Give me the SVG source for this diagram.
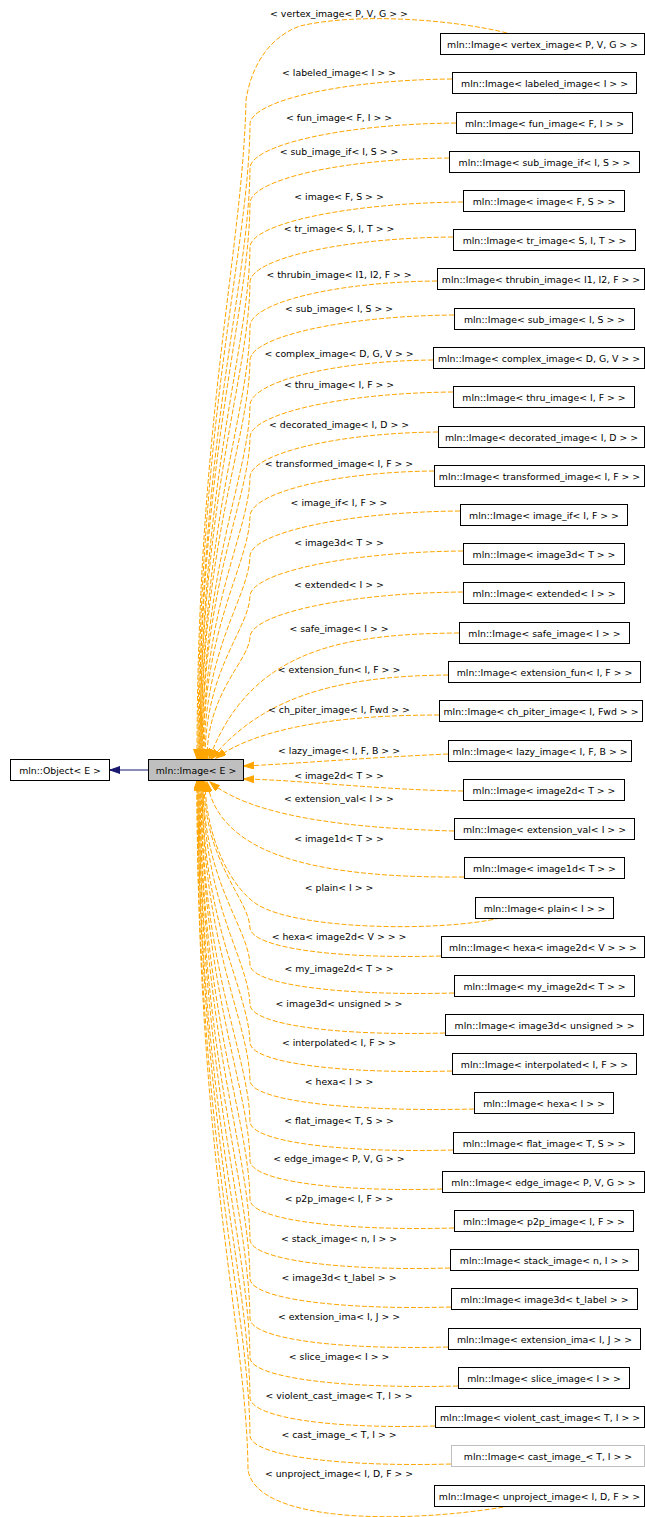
<svg xmlns="http://www.w3.org/2000/svg" width="645" height="1517" viewBox="0 0 645 1517">
<style>
text{font-family:"DejaVu Sans","Liberation Sans",sans-serif;font-size:9.33px;fill:#000;text-anchor:middle}
.n rect{fill:#fff;stroke:#000;stroke-width:1}
.g rect{fill:#fff;stroke:#bfbfbf;stroke-width:1}
.c path{fill:none;stroke:#ffa500;stroke-width:1;stroke-dasharray:5,2;marker-end:url(#ao)}
</style>
<defs>
<marker id="ao" markerWidth="11" markerHeight="8" refX="10" refY="3.5" orient="auto" markerUnits="userSpaceOnUse"><path d="M0,0 L10,3.5 L0,7 z" fill="#ffa500" stroke="#ffa500" stroke-width="1" stroke-dasharray="none"/></marker>
<marker id="an" markerWidth="11" markerHeight="8" refX="10" refY="3.5" orient="auto" markerUnits="userSpaceOnUse"><path d="M0,0 L10,3.5 L0,7 z" fill="#191970" stroke="#191970" stroke-width="1"/></marker>
</defs>
<rect width="645" height="1517" fill="#fff"/>
<g id="connectors">
<path d="M148,770 L110,770" fill="none" stroke="#191970" stroke-width="1" marker-end="url(#an)"/>
<g class="c">
<path d="M507,33 C455,20 360,12 300,26 C272,36 252,62 246,100 C243,250 197,420 197,759"/>
<path d="M452,79 C341,80 251,101 250,124 C249,251 198,410 198,759"/>
<path d="M456,123 C343,124 251,145 250,168 C249,286 199,434 199,759"/>
<path d="M449,158 C340,159 251,180 250,203 C249,314 199,453 199,759"/>
<path d="M463,202 C346,203 251,224 250,247 C249,349 200,477 200,759"/>
<path d="M453,237 C341,238 251,259 250,282 C249,377 200,497 200,759"/>
<path d="M437,281 C334,282 251,303 250,326 C249,413 201,521 201,759"/>
<path d="M454,315 C342,316 251,337 250,360 C249,440 201,540 201,759"/>
<path d="M433,360 C332,361 251,382 250,405 C249,476 202,564 202,759"/>
<path d="M453,392 C341,393 251,414 250,437 C249,501 202,582 202,759"/>
<path d="M438,432 C335,433 251,454 250,477 C249,533 203,604 203,759"/>
<path d="M434,471 C333,472 251,493 250,516 C249,565 203,625 203,759"/>
<path d="M460,511 C345,512 251,533 250,556 C249,597 204,647 204,759"/>
<path d="M463,551 C346,552 251,573 250,596 C249,629 205,669 205,759"/>
<path d="M463,592 C346,593 251,614 250,637 C249,661 207,692 207,759"/>
<path d="M459,633 C340,634 250,650 209,759"/>
<path d="M448,675 C330,676 260,700 211,759"/>
<path d="M439,715 C330,715 255,730 216,758"/>
<path d="M448,754 C360,758 290,764 244,766"/>
<path d="M463,791 C380,790 300,780 244,779"/>
<path d="M454,831 C340,828 250,815 210,782"/>
<path d="M464,877 C330,878 220,860 207,782"/>
<path d="M500,918 C440,932 300,930 258,905 C232,889 206,840 205,782"/>
<path d="M441,956 C336,959 252,948 250,928 C249,899 204,862 204,781"/>
<path d="M454,993 C342,996 252,985 250,965 C249,928 203,882 203,781"/>
<path d="M445,1033 C338,1036 252,1025 250,1005 C249,960 203,904 203,781"/>
<path d="M452,1071 C341,1074 252,1063 250,1043 C249,991 202,925 202,781"/>
<path d="M474,1109 C351,1112 252,1101 250,1081 C249,1021 202,946 202,781"/>
<path d="M453,1150 C341,1153 252,1142 250,1122 C249,1054 201,969 201,781"/>
<path d="M442,1189 C336,1192 252,1181 250,1161 C249,1085 201,990 201,781"/>
<path d="M454,1228 C342,1231 252,1220 250,1200 C249,1116 200,1011 200,781"/>
<path d="M450,1268 C340,1271 252,1260 250,1240 C249,1148 200,1033 200,781"/>
<path d="M451,1307 C340,1310 252,1299 250,1279 C249,1179 199,1055 199,781"/>
<path d="M448,1347 C339,1350 252,1339 250,1319 C249,1211 199,1077 199,781"/>
<path d="M458,1386 C344,1389 252,1378 250,1358 C249,1243 198,1098 198,781"/>
<path d="M435,1426 C333,1429 252,1418 250,1398 C249,1275 198,1120 198,781"/>
<path d="M451,1464 C340,1467 252,1456 250,1436 C249,1305 197,1141 197,781"/>
<path d="M510,1506 C400,1525 256,1522 248,1470 C247,1332 197,1160 197,781"/>
</g>
<g id="edge-labels">
<text x="339" y="17.4">&lt; vertex_image&lt; P, V, G &gt; &gt;</text>
<text x="339" y="76.4">&lt; labeled_image&lt; I &gt; &gt;</text>
<text x="339" y="121.4">&lt; fun_image&lt; F, I &gt; &gt;</text>
<text x="339" y="155.4">&lt; sub_image_if&lt; I, S &gt; &gt;</text>
<text x="339" y="199.9">&lt; image&lt; F, S &gt; &gt;</text>
<text x="339" y="232.4">&lt; tr_image&lt; S, I, T &gt; &gt;</text>
<text x="339" y="278.4">&lt; thrubin_image&lt; I1, I2, F &gt; &gt;</text>
<text x="339" y="312.4">&lt; sub_image&lt; I, S &gt; &gt;</text>
<text x="339" y="357.4">&lt; complex_image&lt; D, G, V &gt; &gt;</text>
<text x="339" y="388.4">&lt; thru_image&lt; I, F &gt; &gt;</text>
<text x="339" y="428.4">&lt; decorated_image&lt; I, D &gt; &gt;</text>
<text x="339" y="467.4">&lt; transformed_image&lt; I, F &gt; &gt;</text>
<text x="339" y="506.4">&lt; image_if&lt; I, F &gt; &gt;</text>
<text x="339" y="546.4">&lt; image3d&lt; T &gt; &gt;</text>
<text x="339" y="588.4">&lt; extended&lt; I &gt; &gt;</text>
<text x="339" y="632.4">&lt; safe_image&lt; I &gt; &gt;</text>
<text x="339" y="673.4">&lt; extension_fun&lt; I, F &gt; &gt;</text>
<text x="339" y="713.4">&lt; ch_piter_image&lt; I, Fwd &gt; &gt;</text>
<text x="339" y="754.4">&lt; lazy_image&lt; I, F, B &gt; &gt;</text>
<text x="339" y="778.9">&lt; image2d&lt; T &gt; &gt;</text>
<text x="339" y="802.4">&lt; extension_val&lt; I &gt; &gt;</text>
<text x="339" y="842.4">&lt; image1d&lt; T &gt; &gt;</text>
<text x="339" y="890.9">&lt; plain&lt; I &gt; &gt;</text>
<text x="339" y="940.4">&lt; hexa&lt; image2d&lt; V &gt; &gt; &gt;</text>
<text x="339" y="972.4">&lt; my_image2d&lt; T &gt; &gt;</text>
<text x="339" y="1007.4">&lt; image3d&lt; unsigned &gt; &gt;</text>
<text x="339" y="1046.4">&lt; interpolated&lt; I, F &gt; &gt;</text>
<text x="339" y="1085.4">&lt; hexa&lt; I &gt; &gt;</text>
<text x="339" y="1124.4">&lt; flat_image&lt; T, S &gt; &gt;</text>
<text x="339" y="1162.4">&lt; edge_image&lt; P, V, G &gt; &gt;</text>
<text x="339" y="1202.4">&lt; p2p_image&lt; I, F &gt; &gt;</text>
<text x="339" y="1242.4">&lt; stack_image&lt; n, I &gt; &gt;</text>
<text x="339" y="1281.4">&lt; image3d&lt; t_label &gt; &gt;</text>
<text x="339" y="1320.4">&lt; extension_ima&lt; I, J &gt; &gt;</text>
<text x="339" y="1360.4">&lt; slice_image&lt; I &gt; &gt;</text>
<text x="339" y="1399.4">&lt; violent_cast_image&lt; T, I &gt; &gt;</text>
<text x="339" y="1438.4">&lt; cast_image_&lt; T, I &gt; &gt;</text>
<text x="339" y="1477.4">&lt; unproject_image&lt; I, D, F &gt; &gt;</text>
</g>
</g>
<g id="node-object" class="n"><rect x="10.5" y="759.5" width="99" height="21"/><text x="60" y="773.5">mln::Object&lt; E &gt;</text></g>
<g id="node-image"><rect x="148.5" y="759.5" width="95" height="21" fill="#bfbfbf" stroke="#000"/><text x="196" y="773.5">mln::Image&lt; E &gt;</text></g>
<g id="n01" class="n"><rect x="440.5" y="33.5" width="204" height="21"/><text x="542.5" y="47.5">mln::Image&lt; vertex_image&lt; P, V, G &gt; &gt;</text></g>
<g id="n02" class="n"><rect x="452.5" y="72.5" width="184" height="21"/><text x="544.5" y="86.5">mln::Image&lt; labeled_image&lt; I &gt; &gt;</text></g>
<g id="n03" class="n"><rect x="456.5" y="112.5" width="176" height="21"/><text x="544.5" y="126.5">mln::Image&lt; fun_image&lt; F, I &gt; &gt;</text></g>
<g id="n04" class="n"><rect x="449.5" y="151.5" width="190" height="21"/><text x="544.5" y="165.5">mln::Image&lt; sub_image_if&lt; I, S &gt; &gt;</text></g>
<g id="n05" class="n"><rect x="463.5" y="190.5" width="161" height="21"/><text x="544" y="204.5">mln::Image&lt; image&lt; F, S &gt; &gt;</text></g>
<g id="n06" class="n"><rect x="453.5" y="229.5" width="182" height="21"/><text x="544.5" y="243.5">mln::Image&lt; tr_image&lt; S, I, T &gt; &gt;</text></g>
<g id="n07" class="n"><rect x="437.5" y="268.5" width="207" height="21"/><text x="541" y="282.5">mln::Image&lt; thrubin_image&lt; I1, I2, F &gt; &gt;</text></g>
<g id="n08" class="n"><rect x="454.5" y="308.5" width="180" height="21"/><text x="544.5" y="322.5">mln::Image&lt; sub_image&lt; I, S &gt; &gt;</text></g>
<g id="n09" class="n"><rect x="433.5" y="347.5" width="211" height="21"/><text x="539" y="361.5">mln::Image&lt; complex_image&lt; D, G, V &gt; &gt;</text></g>
<g id="n10" class="n"><rect x="453.5" y="386.5" width="181" height="21"/><text x="544" y="400.5">mln::Image&lt; thru_image&lt; I, F &gt; &gt;</text></g>
<g id="n11" class="n"><rect x="438.5" y="426.5" width="206" height="21"/><text x="541.5" y="440.5">mln::Image&lt; decorated_image&lt; I, D &gt; &gt;</text></g>
<g id="n12" class="n"><rect x="434.5" y="465.5" width="210" height="21"/><text x="539.5" y="479.5">mln::Image&lt; transformed_image&lt; I, F &gt; &gt;</text></g>
<g id="n13" class="n"><rect x="460.5" y="504.5" width="167" height="21"/><text x="544" y="518.5">mln::Image&lt; image_if&lt; I, F &gt; &gt;</text></g>
<g id="n14" class="n"><rect x="463.5" y="543.5" width="161" height="21"/><text x="544" y="557.5">mln::Image&lt; image3d&lt; T &gt; &gt;</text></g>
<g id="n15" class="n"><rect x="463.5" y="582.5" width="161" height="21"/><text x="544" y="596.5">mln::Image&lt; extended&lt; I &gt; &gt;</text></g>
<g id="n16" class="n"><rect x="459.5" y="622.5" width="170" height="21"/><text x="544.5" y="636.5">mln::Image&lt; safe_image&lt; I &gt; &gt;</text></g>
<g id="n17" class="n"><rect x="448.5" y="661.5" width="192" height="21"/><text x="544.5" y="675.5">mln::Image&lt; extension_fun&lt; I, F &gt; &gt;</text></g>
<g id="n18" class="n"><rect x="439.5" y="700.5" width="203" height="21"/><text x="541" y="714.5">mln::Image&lt; ch_piter_image&lt; I, Fwd &gt; &gt;</text></g>
<g id="n19" class="n"><rect x="448.5" y="740.5" width="183" height="21"/><text x="540" y="754.5">mln::Image&lt; lazy_image&lt; I, F, B &gt; &gt;</text></g>
<g id="n20" class="n"><rect x="463.5" y="779.5" width="161" height="21"/><text x="544" y="793.5">mln::Image&lt; image2d&lt; T &gt; &gt;</text></g>
<g id="n21" class="n"><rect x="454.5" y="818.5" width="180" height="21"/><text x="544.5" y="832.5">mln::Image&lt; extension_val&lt; I &gt; &gt;</text></g>
<g id="n22" class="n"><rect x="464.5" y="857.5" width="160" height="21"/><text x="544.5" y="871.5">mln::Image&lt; image1d&lt; T &gt; &gt;</text></g>
<g id="n23" class="n"><rect x="475.5" y="897.5" width="138" height="21"/><text x="544.5" y="911.5">mln::Image&lt; plain&lt; I &gt; &gt;</text></g>
<g id="n24" class="n"><rect x="441.5" y="936.5" width="203" height="21"/><text x="543" y="950.5">mln::Image&lt; hexa&lt; image2d&lt; V &gt; &gt; &gt;</text></g>
<g id="n25" class="n"><rect x="454.5" y="975.5" width="180" height="21"/><text x="544.5" y="989.5">mln::Image&lt; my_image2d&lt; T &gt; &gt;</text></g>
<g id="n26" class="n"><rect x="445.5" y="1014.5" width="198" height="21"/><text x="544.5" y="1028.5">mln::Image&lt; image3d&lt; unsigned &gt; &gt;</text></g>
<g id="n27" class="n"><rect x="452.5" y="1053.5" width="184" height="21"/><text x="544.5" y="1067.5">mln::Image&lt; interpolated&lt; I, F &gt; &gt;</text></g>
<g id="n28" class="n"><rect x="474.5" y="1092.5" width="139" height="21"/><text x="544" y="1106.5">mln::Image&lt; hexa&lt; I &gt; &gt;</text></g>
<g id="n29" class="n"><rect x="453.5" y="1132.5" width="181" height="21"/><text x="544" y="1146.5">mln::Image&lt; flat_image&lt; T, S &gt; &gt;</text></g>
<g id="n30" class="n"><rect x="442.5" y="1171.5" width="202" height="21"/><text x="543.5" y="1185.5">mln::Image&lt; edge_image&lt; P, V, G &gt; &gt;</text></g>
<g id="n31" class="n"><rect x="454.5" y="1210.5" width="179" height="21"/><text x="544" y="1224.5">mln::Image&lt; p2p_image&lt; I, F &gt; &gt;</text></g>
<g id="n32" class="n"><rect x="450.5" y="1249.5" width="188" height="21"/><text x="544.5" y="1263.5">mln::Image&lt; stack_image&lt; n, I &gt; &gt;</text></g>
<g id="n33" class="n"><rect x="451.5" y="1288.5" width="186" height="21"/><text x="544.5" y="1302.5">mln::Image&lt; image3d&lt; t_label &gt; &gt;</text></g>
<g id="n34" class="n"><rect x="448.5" y="1328.5" width="192" height="21"/><text x="544.5" y="1342.5">mln::Image&lt; extension_ima&lt; I, J &gt; &gt;</text></g>
<g id="n35" class="n"><rect x="458.5" y="1367.5" width="171" height="21"/><text x="544" y="1381.5">mln::Image&lt; slice_image&lt; I &gt; &gt;</text></g>
<g id="n36" class="n"><rect x="435.5" y="1406.5" width="209" height="21"/><text x="540" y="1420.5">mln::Image&lt; violent_cast_image&lt; T, I &gt; &gt;</text></g>
<g id="n37" class="g"><rect x="451.5" y="1445.5" width="193" height="21"/><text x="548" y="1459.5">mln::Image&lt; cast_image_&lt; T, I &gt; &gt;</text></g>
<g id="n38" class="n"><rect x="434.5" y="1485.5" width="210" height="21"/><text x="539.5" y="1499.5">mln::Image&lt; unproject_image&lt; I, D, F &gt; &gt;</text></g>
</svg>
